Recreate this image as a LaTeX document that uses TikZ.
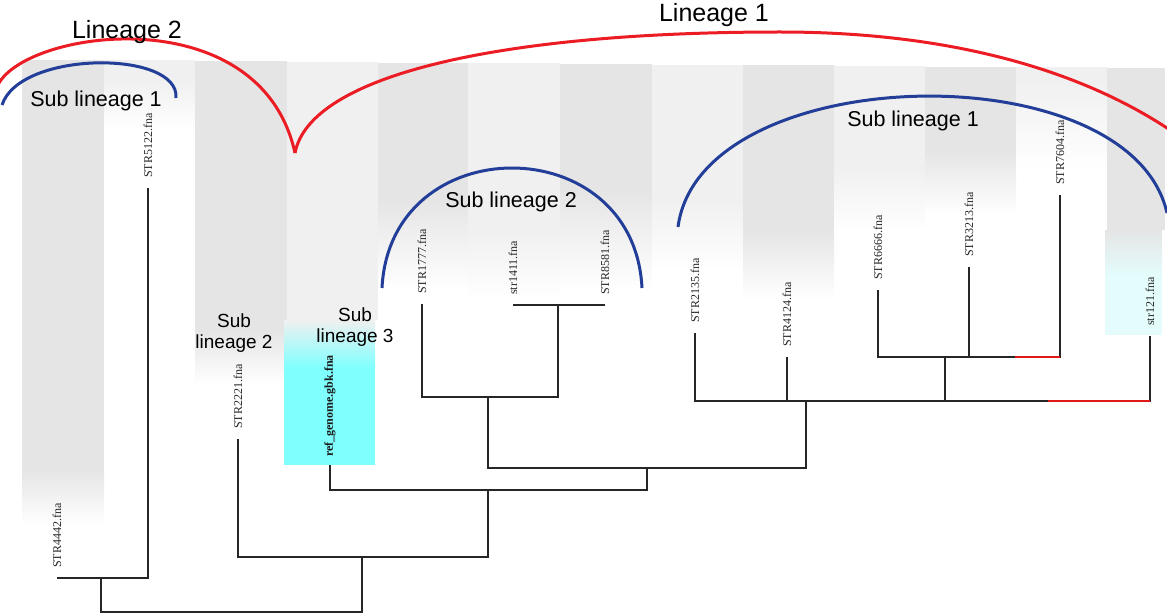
\documentclass[tikz,border=0pt]{standalone}
\usepackage{fontspec}
\setmainfont{Liberation Serif}
\newfontfamily\arialf{Liberation Sans}
\definecolor{stG}{HTML}{E5E5E5}
\definecolor{stL}{HTML}{F0F0F0}
\definecolor{cyanbox}{HTML}{80FFFF}
\definecolor{palecyan}{HTML}{E4FCFC}
\definecolor{arcred}{HTML}{EC1C24}
\definecolor{arcblue}{HTML}{233E98}
\definecolor{brred}{HTML}{E01818}
\begin{document}
\begin{tikzpicture}[x=1pt,y=-1pt,
  branch/.style={draw=black!85, line width=1.4pt},
  redbr/.style={draw=brred, line width=1.4pt},
  leaf/.style={rotate=90, anchor=west, inner sep=0pt, font=\fontsize{12}{12}\selectfont, text=black!85},
  redarc/.style={draw=arcred, line width=3pt},
  bluearc/.style={draw=arcblue, line width=3pt},
  biglab/.style={font=\arialf\fontsize{25}{28}\selectfont, inner sep=0pt},
  midlab/.style={font=\arialf\fontsize{21.5}{24}\selectfont, inner sep=0pt},
  smllab/.style={font=\arialf\fontsize{19}{20.5}\selectfont, align=center, inner sep=0pt},
]
\useasboundingbox (0,0) rectangle (1167,615);
% background stripes
\foreach \xa/\xb/\col/\yt/\ys/\ye in {
  22/104/stG/60/470/525, 104/195/stL/60/80/130, 195/287/stG/61/330/385,
  287/378/stL/62/320/320, 378/468/stG/63/200/290, 468/560/stL/63/230/300,
  560/652/stG/64/190/290, 652/743/stL/65/200/270, 743/834/stG/65/230/300,
  834/925/stL/66/170/230, 925/1016/stG/67/150/215, 1016/1107/stL/67/80/170}
{
  \fill[\col] (\xa,\yt) rectangle (\xb,\ys);
  \shade[top color=\col, bottom color=white] (\xa,\ys) rectangle (\xb,\ye);
}
\fill[stG] (1107,68) rectangle (1165,230);
\shade[top color=stG, bottom color=palecyan] (1105,230) rectangle (1162,275);
\fill[palecyan] (1105,275) rectangle (1162,335);
% cyan box
\shade[top color=stL, bottom color=cyanbox] (284,320) rectangle (375,368);
\fill[cyanbox] (284,368) rectangle (375,465);

% tips
\coordinate (t4442) at (57,578);
\coordinate (t5122) at (148,188);
\coordinate (t2221) at (238,439);
\coordinate (tref) at (330,465);
\coordinate (t1777) at (422,304);
\coordinate (t1411) at (513,305);
\coordinate (t8581) at (605,305);
\coordinate (t2135) at (695,333);
\coordinate (t4124) at (787,357);
\coordinate (t6666) at (878,290);
\coordinate (t3213) at (969,267);
\coordinate (t7604) at (1060,195);
\coordinate (t121) at (1150,336);
% internal nodes
\coordinate (A) at (101,578);
\coordinate (R) at (231,612);
\coordinate (B) at (362,557);
\coordinate (C) at (488,490);
\coordinate (D) at (647,468);
\coordinate (E) at (488,397);
\coordinate (F) at (558,305);
\coordinate (G) at (806,401);
\coordinate (H) at (945,357);

% tree
\draw[branch] (t4442) |- (A);
\draw[branch] (t5122) |- (A);
\draw[branch] (A) |- (R);
\draw[branch] (B) |- (R);
\draw[branch] (t2221) |- (B);
\draw[branch] (C) |- (B);
\draw[branch] (tref) |- (C);
\draw[branch] (D) |- (C);
\draw[branch] (E) |- (D);
\draw[branch] (G) |- (D);
\draw[branch] (t1777) |- (E);
\draw[branch] (F) |- (E);
\draw[branch] (t1411) |- (F);
\draw[branch] (t8581) |- (F);
\draw[branch] (t2135) |- (G);
\draw[branch] (t4124) |- (G);
\draw[branch] (H) |- (G);
\draw[branch] (t121) |- (G);
\draw[branch] (t6666) |- (H);
\draw[branch] (t3213) |- (H);
\draw[branch] (t7604) |- (H);
\draw[redbr] (t121 |- G) -- ++(-102,0);
\draw[redbr] (t7604 |- H) -- ++(-45,0);

% arcs
\coordinate (cusp) at (295,153);
\draw[redarc] (-3,87) .. controls (20,30) and (260,-5) .. (cusp);
\draw[redarc] (cusp) .. controls (310,75) and (500,32) .. (780,32)
                     .. controls (950,32) and (1080,70) .. (1170,130);
\draw[bluearc] (2,105) .. controls (20,50) and (180,50) .. (176,98);
\draw[bluearc] (382,288) .. controls (390,128) and (634,128) .. (642,288);
\draw[bluearc] (678,227) .. controls (700,60) and (1130,50) .. (1167,213);

% leaf labels
\node[leaf] (l4442) at ([yshift=10pt]t4442) {STR4442.fna};
\node[leaf] (l5122) at ([yshift=10pt]t5122) {STR5122.fna};
\node[leaf] (l2221) at ([yshift=10pt]t2221) {STR2221.fna};
\node[leaf, font=\bfseries\fontsize{12}{12}\selectfont, text=black!90] (lref) at ([yshift=8pt]tref) {ref\_genome.gbk.fna};
\node[leaf] (l1777) at ([yshift=10pt]t1777) {STR1777.fna};
\node[leaf] (l1411) at ([yshift=10pt]t1411) {str1411.fna};
\node[leaf] (l8581) at ([yshift=10pt]t8581) {STR8581.fna};
\node[leaf] (l2135) at ([yshift=10pt]t2135) {STR2135.fna};
\node[leaf] (l4124) at ([yshift=10pt]t4124) {STR4124.fna};
\node[leaf] (l6666) at ([yshift=10pt]t6666) {STR6666.fna};
\node[leaf] (l3213) at ([yshift=10pt]t3213) {STR3213.fna};
\node[leaf] (l7604) at ([yshift=10pt]t7604) {STR7604.fna};
\node[leaf] (l121) at ([yshift=10pt]t121) {str121.fna};

% group labels
\node[biglab] (lin2) at (127,32) {Lineage 2};
\node[biglab] (lin1) at (714,15) {Lineage 1};
\node[midlab] (sl1a) at (96,101) {Sub lineage 1};
\node[midlab] (sl1b) at (913,121) {Sub lineage 1};
\node[midlab] (sl2a) at (511,202) {Sub lineage 2};
\node[smllab] (sl2b) at (234,333) {Sub\\lineage 2};
\node[smllab] (sl3) at (355,327) {Sub\\lineage 3};
\end{tikzpicture}
\end{document}
